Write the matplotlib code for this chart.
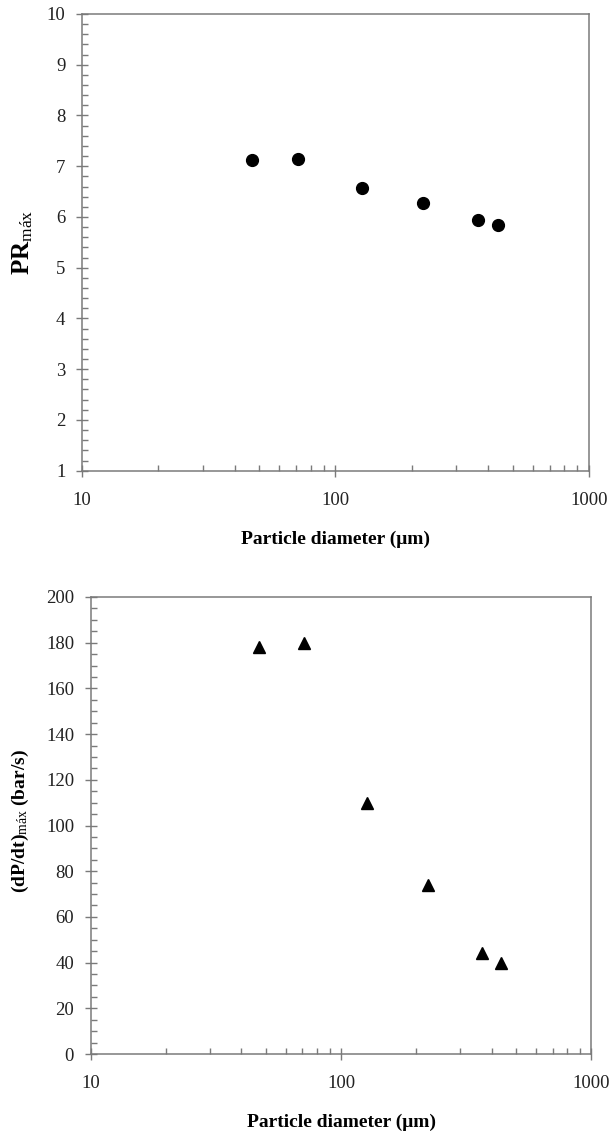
import matplotlib
matplotlib.use("Agg")
import matplotlib.pyplot as plt
from matplotlib.ticker import LogLocator, FixedLocator, MultipleLocator, NullFormatter

# particle diameters (um)
diameter = [47, 71, 127, 222, 365, 436]
pr_max = [7.12, 7.15, 6.58, 6.28, 5.94, 5.84]
dpdt_max = [178, 180, 110, 74, 44, 40]

x_ticks = [10, 100, 1000]
x_ticklabels = ["10", "100", "1000"]

SPINE = "#7a7a7a"

plt.rcParams["font.family"] = ["Liberation Serif", "DejaVu Serif"]
plt.rcParams["mathtext.fontset"] = "custom"
plt.rcParams["mathtext.rm"] = "Liberation Serif"
plt.rcParams["mathtext.bf"] = "Liberation Serif:bold"
plt.rcParams["mathtext.it"] = "Liberation Serif:italic"

fig = plt.figure(figsize=(6.09, 11.38), dpi=100)
ax1 = fig.add_axes([0.1346, 0.5864, 0.8325, 0.4013])
ax2 = fig.add_axes([0.149, 0.0738, 0.822, 0.4016])


def _style(ax):
    for spine in ax.spines.values():
        spine.set_color(SPINE)
        spine.set_linewidth(1.1)
    ax.set_xscale("log")
    ax.set_xlim(10, 1000)
    ax.xaxis.set_major_locator(FixedLocator(x_ticks))
    ax.set_xticklabels(x_ticklabels)
    ax.xaxis.set_minor_locator(LogLocator(base=10, subs=range(2, 10)))
    ax.xaxis.set_minor_formatter(NullFormatter())
    ax.tick_params(which="major", direction="inout", length=8, width=1.0,
                   color=SPINE, labelsize=13.5, pad=8, labelcolor="#222222")
    ax.tick_params(which="minor", direction="in", length=4, width=1.0, color=SPINE)
    ax.tick_params(axis="x", which="major", pad=11)
    ax.set_xlabel("Particle diameter (μm)", fontsize=14, fontweight="bold", labelpad=16)


_style(ax1)
ax1.set_ylim(1, 10)
ax1.yaxis.set_major_locator(MultipleLocator(1))
ax1.yaxis.set_minor_locator(MultipleLocator(0.2))
ax1.plot(diameter, pr_max, "o", color="black", markersize=8.5, clip_on=False)
ax1.set_ylabel(r"$\mathbf{PR}_{\mathrm{máx}}$", fontsize=18)
ax1.yaxis.set_label_coords(-0.092, 0.5)

_style(ax2)
ax2.set_ylim(0, 200)
ax2.yaxis.set_major_locator(MultipleLocator(20))
ax2.yaxis.set_minor_locator(MultipleLocator(5))
ax2.plot(diameter, dpdt_max, "^", color="black", markersize=8.5, clip_on=False)
ax2.set_ylabel(r"$\mathbf{(dP/dt)}_{\mathrm{máx}}$ (bar/s)", fontsize=14, fontweight="bold")
ax2.yaxis.set_label_coords(-0.12, 0.51)

fig.savefig("out.png", dpi=100, facecolor="white")
plt.close(fig)
